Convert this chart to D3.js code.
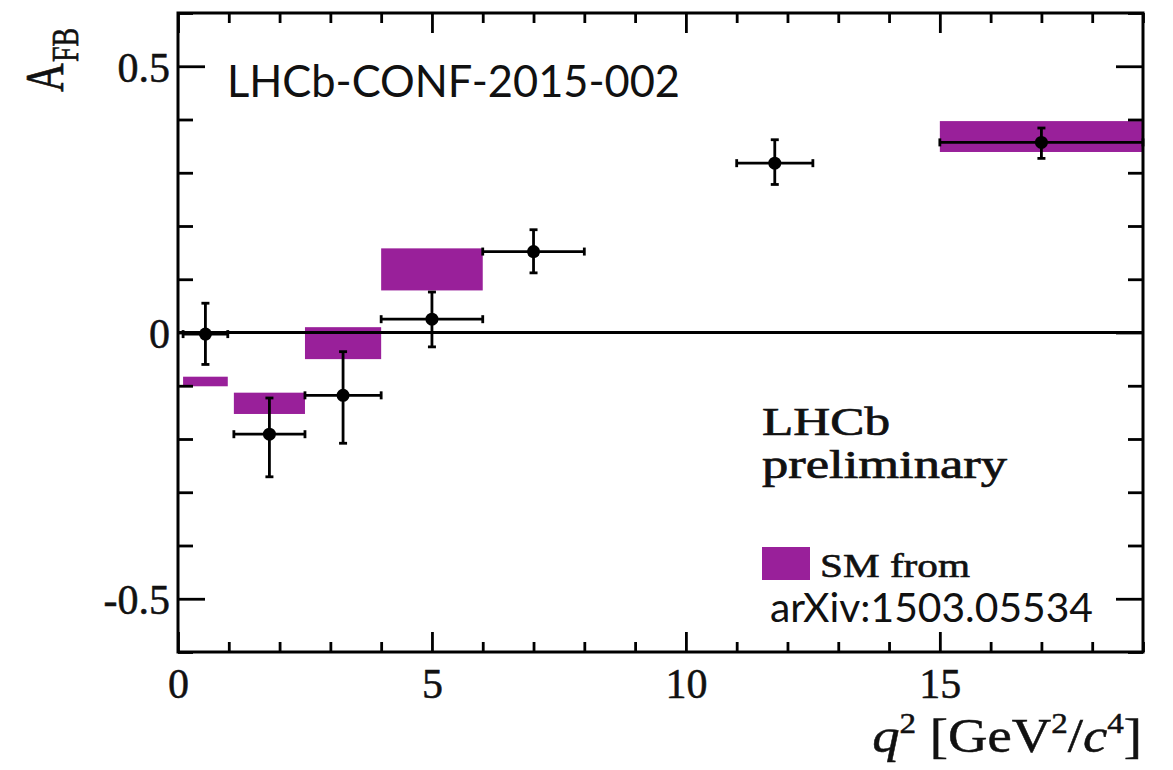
<!DOCTYPE html>
<html>
<head>
<meta charset="utf-8">
<script src="https://cdn.jsdelivr.net/npm/d3@7"></script>
<style>
  html, body { margin: 0; padding: 0; background: #fff; }
  svg { display: block; }
</style>
</head>
<body>
<svg id="chart" width="1173" height="770"></svg>
<script>
// ---- data ----
const binLow   = [0.1, 1.1, 2.5, 4.0, 6.0, 11.0, 15.0];
const binHigh  = [0.98, 2.5, 4.0, 6.0, 8.0, 12.5, 19.0];
const afb      = [-0.003, -0.191, -0.118, 0.025, 0.152, 0.318, 0.357];
const errUp    = [0.058, 0.068, 0.082, 0.051, 0.041, 0.044, 0.027];
const errDown  = [0.057, 0.080, 0.090, 0.052, 0.040, 0.040, 0.030];

const smLow  = [0.1, 1.1, 2.5, 4.0, 15.0];
const smHigh = [0.98, 2.5, 4.0, 6.0, 19.0];
const smMin  = [-0.101, -0.153, -0.050, 0.079, 0.339];
const smMax  = [-0.083, -0.113, 0.010, 0.158, 0.397];

const xMajorTicks = [0, 5, 10, 15];
const yMajorTicks = [-0.5, 0, 0.5];
const yTickLabels = ["-0.5", "0", "0.5"];

// ---- layout ----
const L = 178, R = 1143, T = 13, B = 652;
const purple = "#99209a";
const svg = d3.select("#chart");

const x = d3.scaleLinear().domain([0, 19]).range([L, R]);
const y = d3.scaleLinear().domain([-0.6, 0.6]).range([B, T]);

const xMinor = d3.range(0, 20, 1).filter(v => !xMajorTicks.includes(v));
const yMinor = d3.range(-6, 7, 1).map(v => v / 10).filter(v => !yMajorTicks.some(m => Math.abs(m - v) < 1e-9));

// SM boxes
svg.append("g").selectAll("rect").data(smLow.map((d, i) => i)).join("rect")
  .attr("x", i => x(smLow[i]))
  .attr("width", i => x(smHigh[i]) - x(smLow[i]))
  .attr("y", i => y(smMax[i]))
  .attr("height", i => y(smMin[i]) - y(smMax[i]))
  .attr("fill", purple);

// zero line
svg.append("line")
  .attr("x1", x(0)).attr("x2", x(19))
  .attr("y1", y(0)).attr("y2", y(0))
  .attr("stroke", "#000").attr("stroke-width", 2.8);

// data points with error bars
const pts = svg.append("g").attr("stroke", "#000").attr("stroke-width", 2.8);
const idx = afb.map((d, i) => i);
const cx = i => x((binLow[i] + binHigh[i]) / 2);
const cap = 4;
idx.forEach(i => {
  const g = pts.append("g");
  g.append("line").attr("x1", x(binLow[i])).attr("x2", x(binHigh[i]))
    .attr("y1", y(afb[i])).attr("y2", y(afb[i]));
  g.append("line").attr("x1", cx(i)).attr("x2", cx(i))
    .attr("y1", y(afb[i] + errUp[i])).attr("y2", y(afb[i] - errDown[i]));
  [x(binLow[i]), x(binHigh[i])].forEach(px => {
    g.append("line").attr("x1", px).attr("x2", px)
      .attr("y1", y(afb[i]) - cap).attr("y2", y(afb[i]) + cap);
  });
  [y(afb[i] + errUp[i]), y(afb[i] - errDown[i])].forEach(py => {
    g.append("line").attr("x1", cx(i) - cap).attr("x2", cx(i) + cap)
      .attr("y1", py).attr("y2", py);
  });
});
svg.append("g").selectAll("circle").data(idx).join("circle")
  .attr("cx", cx).attr("cy", i => y(afb[i])).attr("r", 6.5).attr("fill", "#000");

// ---- axes ----
const serif = "'Liberation Serif', 'Times New Roman', serif";
function styleAxis(g) {
  g.select(".domain").remove();
  g.selectAll(".tick line").attr("stroke", "#000").attr("stroke-width", 2.8);
}
function styleLabels(g) {
  g.selectAll("text")
    .attr("font-family", serif).attr("font-size", 42)
    .attr("fill", "#111").attr("stroke", "#111").attr("stroke-width", 0.5);
}
// left
svg.append("g").attr("transform", `translate(${L},0)`)
  .call(d3.axisLeft(y).tickValues(yMinor).tickSize(-15).tickFormat(""))
  .call(styleAxis);
svg.append("g").attr("transform", `translate(${L},0)`)
  .call(d3.axisLeft(y).tickValues(yMajorTicks).tickSize(-27).tickPadding(8)
    .tickFormat((d, i) => yTickLabels[i]))
  .call(styleAxis)
  .call(styleLabels)
  .call(g => g.selectAll("text").attr("dy", "0.36em"));
// right
svg.append("g").attr("transform", `translate(${R},0)`)
  .call(d3.axisRight(y).tickValues(yMinor).tickSize(-15).tickFormat(""))
  .call(styleAxis);
svg.append("g").attr("transform", `translate(${R},0)`)
  .call(d3.axisRight(y).tickValues(yMajorTicks).tickSize(-27).tickFormat(""))
  .call(styleAxis);
// bottom
svg.append("g").attr("transform", `translate(0,${B})`)
  .call(d3.axisBottom(x).tickValues(xMinor).tickSize(-10).tickFormat(""))
  .call(styleAxis);
svg.append("g").attr("transform", `translate(0,${B})`)
  .call(d3.axisBottom(x).tickValues(xMajorTicks).tickSize(-20).tickPadding(16)
    .tickFormat(d3.format("d")))
  .call(styleAxis)
  .call(styleLabels);
// top
svg.append("g").attr("transform", `translate(0,${T})`)
  .call(d3.axisTop(x).tickValues(xMinor).tickSize(-10).tickFormat(""))
  .call(styleAxis);
svg.append("g").attr("transform", `translate(0,${T})`)
  .call(d3.axisTop(x).tickValues(xMajorTicks).tickSize(-20).tickFormat(""))
  .call(styleAxis);

// frame
svg.append("rect").attr("x", L).attr("y", T).attr("width", R - L).attr("height", B - T)
  .attr("fill", "none").attr("stroke", "#000").attr("stroke-width", 3);

// ---- titles ----
const yt = svg.append("g").attr("transform", "translate(63,92) rotate(-90) scale(1,1.35)")
  .append("text").attr("font-family", serif).attr("fill", "#111")
  .attr("stroke", "#111").attr("stroke-width", 0.5);
yt.append("tspan").attr("font-size", 40).text("A");
yt.append("tspan").attr("font-size", 28).attr("dy", 11).attr("dx", 1).text("FB");

const xt = svg.append("g").attr("transform", "translate(1142,752) scale(1.14,1)")
  .append("text").attr("text-anchor", "end").attr("font-family", serif)
  .attr("font-size", 48).attr("fill", "#111").attr("stroke", "#111").attr("stroke-width", 0.5);
xt.append("tspan").attr("font-style", "italic").text("q");
xt.append("tspan").attr("font-size", 29).attr("dy", -19).text("2");
xt.append("tspan").attr("dy", 19).text(" [GeV");
xt.append("tspan").attr("font-size", 29).attr("dy", -19).text("2");
xt.append("tspan").attr("dy", 19).text("/");
xt.append("tspan").attr("font-style", "italic").text("c");
xt.append("tspan").attr("font-size", 29).attr("dy", -19).text("4");
xt.append("tspan").attr("dy", 19).text("]");

// annotations
svg.append("text").attr("x", 227).attr("y", 97)
  .attr("font-family", "Lato, 'Open Sans', sans-serif").attr("font-size", 45)
  .attr("textLength", 453).attr("lengthAdjust", "spacingAndGlyphs")
  .attr("fill", "#111").text("LHCb-CONF-2015-002");

svg.append("text").attr("x", 762).attr("y", 435)
  .attr("font-family", serif).attr("font-size", 39)
  .attr("textLength", 128).attr("lengthAdjust", "spacingAndGlyphs")
  .attr("fill", "#111").attr("stroke", "#111").attr("stroke-width", 0.7).text("LHCb");
svg.append("text").attr("x", 762).attr("y", 478)
  .attr("font-family", serif).attr("font-size", 39)
  .attr("textLength", 245).attr("lengthAdjust", "spacingAndGlyphs")
  .attr("fill", "#111").attr("stroke", "#111").attr("stroke-width", 0.7).text("preliminary");

// legend
svg.append("rect").attr("x", 762).attr("y", 547).attr("width", 48).attr("height", 33)
  .attr("fill", purple);
svg.append("text").attr("x", 820).attr("y", 577)
  .attr("font-family", serif).attr("font-size", 34)
  .attr("textLength", 150).attr("lengthAdjust", "spacingAndGlyphs")
  .attr("fill", "#111").attr("stroke", "#111").attr("stroke-width", 0.6).text("SM from");
svg.append("text").attr("x", 770).attr("y", 622)
  .attr("font-family", "Lato, 'Open Sans', sans-serif").attr("font-size", 40)
  .attr("textLength", 323).attr("lengthAdjust", "spacingAndGlyphs")
  .attr("fill", "#111").text("arXiv:1503.05534");
</script>
</body>
</html>
